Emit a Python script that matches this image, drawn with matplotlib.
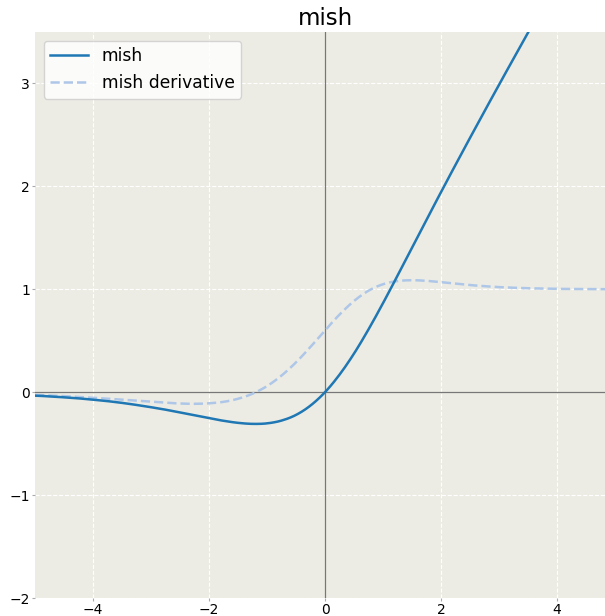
import matplotlib
matplotlib.use("Agg")
import matplotlib.pyplot as plt

# sample points (x) and curve values
x = [-5.0, -4.75, -4.5, -4.25, -4.0, -3.75, -3.5, -3.25, -3.0, -2.75, -2.5,
     -2.25, -2.0, -1.75, -1.5, -1.25, -1.0, -0.75, -0.5, -0.25, 0.0,
     0.25, 0.5, 0.75, 1.0, 1.25, 1.5, 1.75, 2.0, 2.25, 2.5,
     2.75, 3.0, 3.25, 3.5, 3.75, 4.0, 4.25, 4.5, 4.75, 5.0]

mish = [-0.034, -0.041, -0.050, -0.060, -0.073, -0.087, -0.104, -0.124, -0.146, -0.170, -0.197,
        -0.225, -0.253, -0.278, -0.298, -0.308, -0.303, -0.276, -0.221, -0.130, 0.0,
        0.170, 0.375, 0.610, 0.865, 1.132, 1.403, 1.675, 1.944, 2.209, 2.471,
        2.730, 2.987, 3.241, 3.494, 3.746, 3.997, 4.248, 4.499, 4.749, 5.000]

mish_deriv = [-0.027, -0.032, -0.038, -0.046, -0.054, -0.063, -0.073, -0.083, -0.093, -0.103, -0.110,
              -0.113, -0.108, -0.094, -0.064, -0.015, 0.059, 0.161, 0.290, 0.440, 0.600,
              0.754, 0.886, 0.986, 1.049, 1.080, 1.088, 1.082, 1.069, 1.055, 1.041,
              1.030, 1.021, 1.015, 1.010, 1.007, 1.004, 1.003, 1.002, 1.001, 1.001]


def smooth(xs, ys, n=8):
    # catmull-rom between the read points so the curve isn't jagged
    out_x, out_y = [], []
    for i in range(len(xs) - 1):
        p0 = ys[max(i - 1, 0)]
        p1 = ys[i]
        p2 = ys[i + 1]
        p3 = ys[min(i + 2, len(ys) - 1)]
        for k in range(n):
            t = k / n
            out_x.append(xs[i] + (xs[i + 1] - xs[i]) * t)
            out_y.append(0.5 * (2 * p1 + (-p0 + p2) * t
                                + (2 * p0 - 5 * p1 + 4 * p2 - p3) * t ** 2
                                + (-p0 + 3 * p1 - 3 * p2 + p3) * t ** 3))
    out_x.append(xs[-1])
    out_y.append(ys[-1])
    return out_x, out_y


fig = plt.figure(figsize=(6.05, 6.16), dpi=100)
ax = fig.add_axes([35 / 605, 18 / 616, 580 / 605, 566 / 616])
ax.set_facecolor("#edece4")
for s in ax.spines.values():
    s.set_visible(False)

ax.grid(True, color="white", linestyle="--", linewidth=0.8)
ax.set_axisbelow(True)
ax.axhline(0, color="#777777", linewidth=0.9, zorder=1)
ax.axvline(0, color="#777777", linewidth=0.9, zorder=1)

sx, sy = smooth(x, mish)
ax.plot(sx, sy, color="#1f77b4", linewidth=1.8, label="mish", zorder=3)
dx, dy = smooth(x, mish_deriv)
ax.plot(dx, dy, color="#aec7e8", linewidth=1.8, linestyle="--", label="mish derivative", zorder=2)

ax.set_xlim(-5, 5)
ax.set_ylim(-2, 3.5)
ax.set_xticks([-4, -2, 0, 2, 4])
ax.set_yticks([-2, -1, 0, 1, 2, 3])
ax.tick_params(labelsize=10, color="#aaaaaa", length=2, pad=1.5)

ax.set_title("mish", fontsize=16.5, pad=5)
ax.legend(loc="upper left", fontsize=12.3, handlelength=2.2, framealpha=0.8)

fig.savefig("out.png", dpi=100)
